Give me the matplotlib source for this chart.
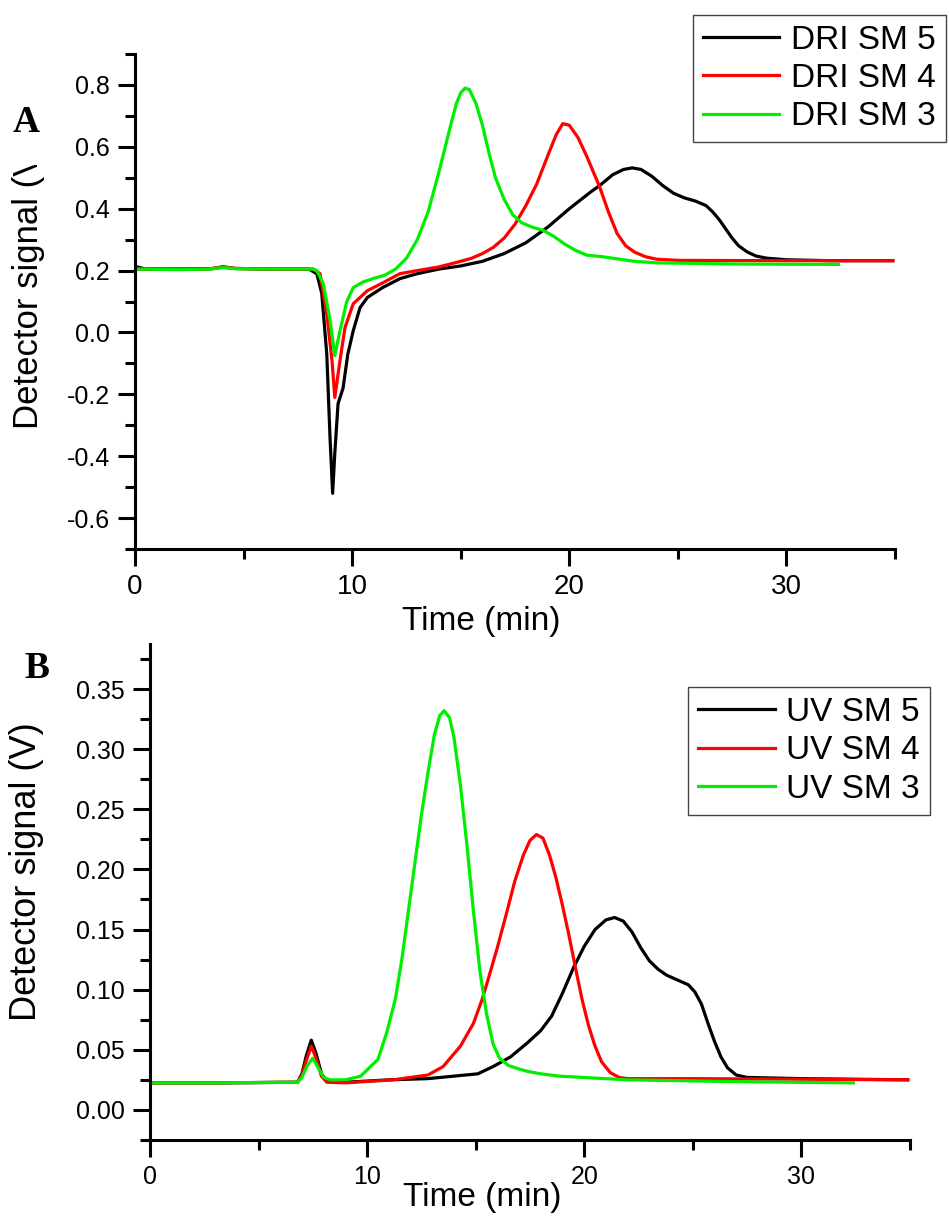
import matplotlib
matplotlib.use("Agg")
import matplotlib.pyplot as plt
from matplotlib.patches import Rectangle
from matplotlib.ticker import MultipleLocator

plt.rcParams['font.family'] = ['Liberation Sans', 'DejaVu Sans']

# ---- panel A: DRI traces (time in min, signal in V) ----
dri5_t = [0, 0.1, 0.3, 0.5, 2.0, 3.5, 4.05, 4.6, 6.0, 8.0, 8.37, 8.6, 8.83, 8.98, 9.1, 9.2,
          9.35, 9.58, 9.8, 10.05, 10.36, 10.7, 11.4, 12.2, 13, 14, 15, 16, 17, 18, 19, 20,
          21, 21.4, 22.0, 22.5, 22.9, 23.3, 23.8, 24.3, 24.8, 25.3, 25.8, 26.3, 26.6, 26.9,
          27.2, 27.5, 27.8, 28.2, 28.6, 29.1, 30, 32, 34.9]
dri5_v = [0.21, 0.212, 0.208, 0.205, 0.205, 0.206, 0.212, 0.207, 0.205, 0.205, 0.19, 0.126,
          -0.07, -0.34, -0.52, -0.39, -0.23, -0.18, -0.07, 0.006, 0.08, 0.113, 0.145, 0.174,
          0.19, 0.205, 0.215, 0.23, 0.255, 0.29, 0.34, 0.40, 0.455, 0.475, 0.51, 0.527, 0.532,
          0.527, 0.505, 0.475, 0.45, 0.435, 0.425, 0.41, 0.39, 0.365, 0.335, 0.305, 0.28,
          0.26, 0.247, 0.24, 0.235, 0.232, 0.232]

dri4_t = [0, 2.0, 3.5, 4.05, 4.6, 6.0, 8.2, 8.52, 8.83, 9.07, 9.2, 9.44, 9.67, 10.05, 10.7,
          11.4, 12.2, 13, 14, 15, 15.5, 16, 16.5, 17, 17.5, 18, 18.5, 19, 19.4, 19.7, 20.0,
          20.4, 20.8, 21.1, 21.4, 21.8, 22.2, 22.6, 23, 23.5, 24, 25, 30, 34.9]
dri4_v = [0.205, 0.205, 0.206, 0.212, 0.207, 0.205, 0.205, 0.19, 0.06, -0.09, -0.21, -0.09,
          0.016, 0.093, 0.135, 0.16, 0.19, 0.20, 0.212, 0.23, 0.24, 0.255, 0.275, 0.305, 0.35,
          0.41, 0.48, 0.57, 0.64, 0.675, 0.67, 0.63, 0.57, 0.52, 0.47, 0.39, 0.32, 0.28, 0.26,
          0.245, 0.237, 0.233, 0.232, 0.232]

dri3_t = [0, 2.0, 3.5, 4.05, 4.6, 6.0, 8.2, 8.37, 8.67, 8.98, 9.2, 9.44, 9.75, 10.05, 10.5,
          11.0, 11.5, 12.0, 12.5, 13.0, 13.5, 14.0, 14.5, 14.8, 15.0, 15.2, 15.4, 15.7, 16.0,
          16.3, 16.6, 17.0, 17.4, 17.8, 18.3, 18.8, 19.3, 19.8, 20.3, 20.8, 21.5, 22, 23, 24,
          28, 32.4]
dri3_v = [0.205, 0.203, 0.205, 0.21, 0.206, 0.205, 0.205, 0.2, 0.158, 0.04, -0.075, 0.006,
          0.10, 0.145, 0.163, 0.175, 0.185, 0.205, 0.24, 0.30, 0.39, 0.52, 0.66, 0.74, 0.775,
          0.79, 0.785, 0.74, 0.67, 0.58, 0.50, 0.43, 0.38, 0.355, 0.34, 0.33, 0.31, 0.285,
          0.265, 0.25, 0.245, 0.24, 0.23, 0.225, 0.221, 0.22]

# ---- panel B: UV traces ----
uv5_t = [0, 3, 6.8, 7.0, 7.2, 7.43, 7.65, 7.9, 8.15, 9, 11, 12.8, 15.1, 15.8, 16.6, 17.4,
         18.0, 18.5, 19.0, 19.5, 20.0, 20.5, 21.0, 21.4, 21.8, 22.2, 22.6, 23.0, 23.4, 23.8,
         24.3, 24.8, 25.1, 25.4, 25.7, 26.0, 26.3, 26.6, 27.0, 27.5, 30, 34.9]
uv5_v = [0.0225, 0.0225, 0.023, 0.03, 0.045, 0.058, 0.047, 0.03, 0.024, 0.023, 0.025, 0.026,
         0.03, 0.036, 0.044, 0.056, 0.066, 0.078, 0.097, 0.118, 0.136, 0.15, 0.158, 0.16,
         0.157, 0.148, 0.135, 0.124, 0.117, 0.112, 0.108, 0.104, 0.098, 0.088, 0.072, 0.057,
         0.044, 0.035, 0.029, 0.027, 0.026, 0.025]

uv4_t = [0, 3, 6.8, 7.0, 7.2, 7.43, 7.65, 7.9, 8.15, 9, 11.2, 12.8, 13.5, 14.3, 14.9, 15.3,
         15.6, 16.0, 16.4, 16.8, 17.2, 17.5, 17.8, 18.1, 18.4, 18.7, 19.0, 19.3, 19.6, 19.9,
         20.2, 20.5, 20.8, 21.2, 21.6, 22, 25, 30, 34.9]
uv4_v = [0.0225, 0.0225, 0.023, 0.029, 0.041, 0.053, 0.043, 0.028, 0.023, 0.0225, 0.025,
         0.029, 0.036, 0.053, 0.072, 0.092, 0.11, 0.135, 0.162, 0.19, 0.212, 0.224, 0.229,
         0.226, 0.212, 0.193, 0.17, 0.145, 0.118, 0.092, 0.07, 0.053, 0.04, 0.031, 0.027,
         0.026, 0.026, 0.0255, 0.025]

uv3_t = [0, 3, 6.8, 7.0, 7.25, 7.5, 7.75, 8.0, 8.3, 9, 9.7, 10.5, 10.9, 11.3, 11.6, 11.9,
         12.2, 12.5, 12.8, 13.1, 13.35, 13.55, 13.8, 14.0, 14.3, 14.6, 14.9, 15.2, 15.5, 15.8,
         16.1, 16.5, 17.0, 17.4, 18.0, 18.9, 22, 27, 32.4]
uv3_v = [0.0225, 0.0225, 0.023, 0.027, 0.037, 0.043, 0.035, 0.027, 0.025, 0.025, 0.028,
         0.042, 0.064, 0.092, 0.125, 0.165, 0.205, 0.245, 0.28, 0.312, 0.328, 0.332, 0.326,
         0.31, 0.27, 0.22, 0.165, 0.115, 0.08, 0.055, 0.043, 0.037, 0.034, 0.032, 0.03,
         0.028, 0.025, 0.0235, 0.0225]

labels_a = ['DRI SM 5', 'DRI SM 4', 'DRI SM 3']
labels_b = ['UV SM 5', 'UV SM 4', 'UV SM 3']
colors = ['black', '#ff0000', '#00ee00']

fig = plt.figure(figsize=(9.49, 12.2), dpi=100)
ax1 = fig.add_axes([0.1423, 0.55, 0.8008, 0.4057])
ax2 = fig.add_axes([0.158, 0.0656, 0.8008, 0.4066])


def style_axes(ax, xlabsize):
    for side in ['top', 'right']:
        ax.spines[side].set_visible(False)
    for side in ['left', 'bottom']:
        ax.spines[side].set_linewidth(2.2)
    ax.tick_params(which='major', direction='out', length=12, width=2.2, labelsize=18, pad=6)
    ax.tick_params(which='minor', direction='out', length=7, width=2.2)
    ax.tick_params(axis='x', labelsize=xlabsize)
    ax.set_xlim(0, 35)
    ax.xaxis.set_major_locator(MultipleLocator(10))
    ax.xaxis.set_minor_locator(MultipleLocator(5))


legend_kw = dict(loc='upper left', bbox_transform=fig.transFigure, fontsize=24, frameon=True,
                 fancybox=False, edgecolor='#444444', framealpha=1, handlelength=2.3,
                 handletextpad=0.35, borderpad=0.3, labelspacing=0.22, borderaxespad=0)

# panel A
for t, v, lab, c in zip([dri5_t, dri4_t, dri3_t], [dri5_v, dri4_v, dri3_v], labels_a, colors):
    ax1.plot(t, v, color=c, lw=2.3, label=lab)
style_axes(ax1, 20)
ax1.set_ylim(-0.7, 0.9)
ax1.yaxis.set_minor_locator(MultipleLocator(0.1))
ax1.set_yticks([-0.6, -0.4, -0.2, 0.0, 0.2, 0.4, 0.6, 0.8])
ax1.set_yticklabels(['-0.6', '-0.4', '-0.2', '0.0', '0.2', '0.4', '0.6', '0.8'])
ax1.set_xlabel('Time (min)', fontsize=24)
ax1.xaxis.set_label_coords(0.455, -0.115)
ax1.set_ylabel('Detector signal (V)', fontsize=25)
ax1.yaxis.set_label_coords(-0.118, 0.533)
# white patch under the panel letter hides the end of the y label, as in the source
fig.add_artist(Rectangle((0.0, 0.8648), 0.07, 0.06, transform=fig.transFigure,
                         facecolor='white', edgecolor='none', zorder=5))
fig.text(0.013, 0.892, 'A', fontsize=27, fontweight='bold', family='Liberation Serif',
         zorder=6)
ax1.legend(bbox_to_anchor=(0.730, 0.988), **legend_kw)

# panel B
for t, v, lab, c in zip([uv5_t, uv4_t, uv3_t], [uv5_v, uv4_v, uv3_v], labels_b, colors):
    ax2.plot(t, v, color=c, lw=2.3, label=lab)
style_axes(ax2, 18)
ax2.set_ylim(-0.025, 0.3875)
ax2.yaxis.set_major_locator(MultipleLocator(0.05))
ax2.yaxis.set_minor_locator(MultipleLocator(0.025))
ax2.yaxis.set_major_formatter(plt.FormatStrFormatter('%.2f'))
ax2.set_xlabel('Time (min)', fontsize=24)
ax2.xaxis.set_label_coords(0.437, -0.085)
ax2.set_ylabel('Detector signal (V)', fontsize=26)
ax2.yaxis.set_label_coords(-0.1395, 0.54)
fig.text(0.026, 0.444, 'B', fontsize=27, fontweight='bold', family='Liberation Serif')
ax2.legend(bbox_to_anchor=(0.725, 0.437), **legend_kw)

fig.savefig('out.png', dpi=100)
